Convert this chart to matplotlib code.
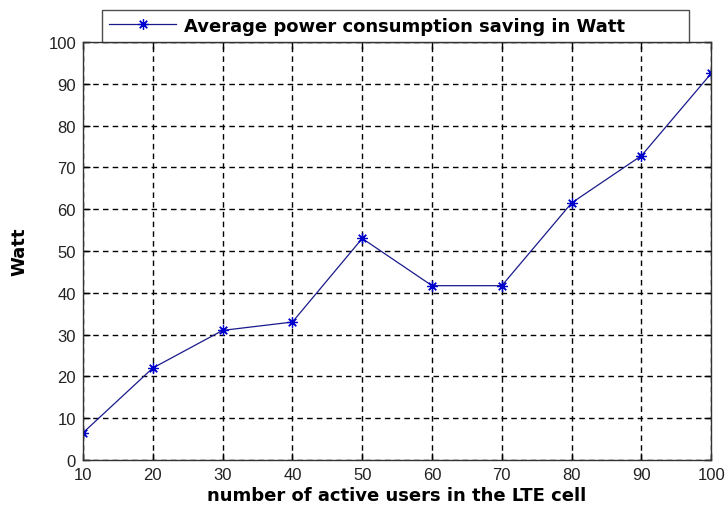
import matplotlib.pyplot as plt

# data
users = [10, 20, 30, 40, 50, 60, 70, 80, 90, 100]
saving = [6.5, 22, 31, 33, 53, 41.7, 41.7, 61.5, 72.8, 92.5]
xticks = [10, 20, 30, 40, 50, 60, 70, 80, 90, 100]
yticks = [0, 10, 20, 30, 40, 50, 60, 70, 80, 90, 100]

plt.rcParams['font.family'] = ['Liberation Sans', 'DejaVu Sans']
bold = dict(family='DejaVu Sans', weight='bold', size=13)

fig = plt.figure(figsize=(7.28, 5.06), dpi=100)
ax = fig.add_axes([0.114, 0.089, 0.863, 0.826])

# MATLAB style asterisk marker
ax.plot(users, saving, color='#1a1a8c', linewidth=0.9, marker=(8, 2, 0),
        markersize=7.5, markeredgewidth=0.9, markeredgecolor='#0000cc',
        label='Average power consumption saving in Watt')

ax.set_xlim(10, 100)
ax.set_ylim(0, 100)
ax.set_xticks(xticks)
ax.set_yticks(yticks)
ax.tick_params(direction='in', top=True, right=True, labelsize=12,
               length=5, width=1, colors='black', labelcolor='#222222')
ax.tick_params(axis='x', pad=5)
ax.tick_params(axis='y', pad=5)
ax.grid(True, color='black', linestyle=(0, (4, 3)), linewidth=1)

for s in ax.spines.values():
    s.set_linewidth(1)
    s.set_color('#333333')

ax.set_xlabel('number of active users in the LTE cell', fontdict=bold, labelpad=3)
ax.set_ylabel('Watt', fontdict=bold, labelpad=14)

leg = fig.legend(loc='lower left', bbox_to_anchor=(0.140, 0.915, 0.806, 0.065),
                 mode='expand', prop=bold, frameon=True, fancybox=False,
                 borderpad=0.4, handlelength=3.7, handletextpad=0.45,
                 borderaxespad=0)
leg.get_frame().set_edgecolor('#222222')
leg.get_frame().set_linewidth(1)

fig.savefig('out.png', dpi=100)
